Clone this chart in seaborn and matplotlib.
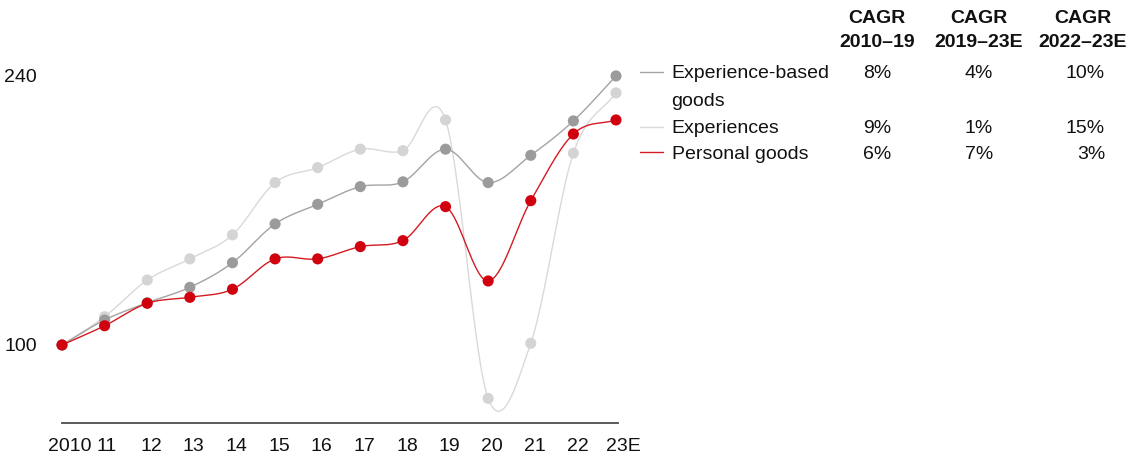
import numpy as np
import pandas as pd
import matplotlib
matplotlib.use("Agg")
import matplotlib.pyplot as plt
from matplotlib.lines import Line2D
from matplotlib.transforms import ScaledTranslation
import seaborn as sns

# ---- data ----
years = ["2010", "11", "12", "13", "14", "15", "16", "17", "18", "19", "20", "21", "22", "23E"]
experience_based_goods = [100, 113, 122, 130, 142.8, 163, 173.2, 182.4, 184.9, 201.9, 184.5, 198.7, 216.6, 240]
experiences = [100, 114.7, 133.8, 144.8, 157.3, 184.5, 192.3, 201.9, 201.1, 217.1, 72.2, 100.9, 199.8, 231.2]
personal_goods = [100, 110, 121.7, 124.8, 129, 144.8, 144.8, 151.2, 154.3, 172, 133.3, 175.1, 209.8, 217.1]

series_names = ["Experience-based goods", "Experiences", "Personal goods"]
legend_labels = [["Experience-based", "goods"], ["Experiences"], ["Personal goods"]]
cagr_headers = [["CAGR", "2010\u201319"], ["CAGR", "2019\u201323E"], ["CAGR", "2022\u201323E"]]
cagr_values = [["8%", "4%", "10%"], ["9%", "1%", "15%"], ["6%", "7%", "3%"]]
ytick_values = [100, 240]

line_colors = {"Experience-based goods": "#a3a3a3", "Experiences": "#d9d9d9", "Personal goods": "#d41a22"}
point_colors = {"Experience-based goods": "#9b9b9b", "Experiences": "#d4d4d4", "Personal goods": "#d0000e"}

sns.set_theme(style="white")
plt.rcParams["font.family"] = ["Liberation Sans", "DejaVu Sans"]
TXT = "#111111"

W, H = 1131, 457
fig = plt.figure(figsize=(W / 100, H / 100), dpi=100)
fig.patch.set_facecolor("white")


def fx(x):
    return x / W


def fy(y):
    return 1 - y / H


ax = fig.add_axes([fx(62), fy(423), fx(616) - fx(62), fy(60) - fy(423)])
ax.set_facecolor("white")


def catmull_rom(vals, n=40):
    y = np.asarray(vals, float)
    p = np.concatenate([[2 * y[0] - y[1]], y, [2 * y[-1] - y[-2]]])
    m = (p[2:] - p[:-2]) / 2.0
    t = np.linspace(0, 1, n, endpoint=False)
    h00 = 2 * t**3 - 3 * t**2 + 1
    h10 = t**3 - 2 * t**2 + t
    h01 = -2 * t**3 + 3 * t**2
    h11 = t**3 - t**2
    xs, ys = [], []
    for i in range(len(y) - 1):
        ys.append(h00 * y[i] + h10 * m[i] + h01 * y[i + 1] + h11 * m[i + 1])
        xs.append(i + t)
    xs.append([len(y) - 1])
    ys.append([y[-1]])
    return np.concatenate(xs), np.concatenate(ys)


data = {"Experience-based goods": experience_based_goods,
        "Experiences": experiences,
        "Personal goods": personal_goods}
order = ["Experiences", "Experience-based goods", "Personal goods"]
xpos = np.arange(len(years))
for z, name in enumerate(order):
    sx, sy = catmull_rom(data[name])
    curve = pd.DataFrame({"x": sx, "y": sy})
    sns.lineplot(data=curve, x="x", y="y", ax=ax, color=line_colors[name], lw=1.0,
                 sort=False, estimator=None, zorder=2 + z * 2, clip_on=False)
    pts = pd.DataFrame({"x": xpos, "y": data[name]})
    sns.scatterplot(data=pts, x="x", y="y", ax=ax, color=point_colors[name], s=64,
                    edgecolor="none", zorder=3 + z * 2, clip_on=False)

fs = 14
ax.set_xlim(0, 13)
ax.set_ylim(59.4, 248.3)
ax.set_xlabel("")
ax.set_ylabel("")
ax.set_xticks(xpos)
ax.set_xticklabels(years, fontsize=fs, color=TXT)
ax.set_yticks(ytick_values)
ax.set_yticklabels([str(v) for v in ytick_values], fontsize=fs, color=TXT)
ax.tick_params(axis="x", length=0, pad=11)
ax.tick_params(axis="y", length=0, pad=18)
# slight horizontal nudges of the year labels, as in the reference
nudges = [8, 2] + [4] * 11 + [7]
for lab, dx in zip(ax.get_xticklabels(), nudges):
    lab.set_transform(lab.get_transform() + ScaledTranslation(dx / 100, 0, fig.dpi_scale_trans))
for s in ["top", "right", "left"]:
    ax.spines[s].set_visible(False)
ax.spines["bottom"].set_color("#4d4d4d")
ax.spines["bottom"].set_linewidth(1.3)
ax.spines["bottom"].set_bounds(0, 13.05)
ax.grid(False)

# ---- legend / CAGR table ----
header_x = [877, 979, 1083]
value_right_x = [891, 993, 1105]
for hx, (l1, l2) in zip(header_x, cagr_headers):
    fig.text(fx(hx), fy(23.3), l1, ha="center", va="baseline", fontsize=fs, fontweight="bold", color=TXT)
    fig.text(fx(hx), fy(46.7), l2, ha="center", va="baseline", fontsize=fs, fontweight="bold", color=TXT)

row_line_y = [71.7, 126.7, 152.3]
row_base_y = [78.3, 133.3, 159.3]
for i, name in enumerate(series_names):
    fig.add_artist(Line2D([fx(640), fx(663)], [fy(row_line_y[i])] * 2,
                          color=line_colors[name], lw=1.0, transform=fig.transFigure))
    for j, lab in enumerate(legend_labels[i]):
        fig.text(fx(671.5), fy(row_base_y[i] + 27.7 * j), lab, ha="left", va="baseline",
                 fontsize=fs, color=TXT)
    for k, val in enumerate(cagr_values[i]):
        fig.text(fx(value_right_x[k]), fy(row_base_y[i]), val, ha="right", va="baseline",
                 fontsize=fs, color=TXT)

fig.savefig("out.png", dpi=100, facecolor="white")
